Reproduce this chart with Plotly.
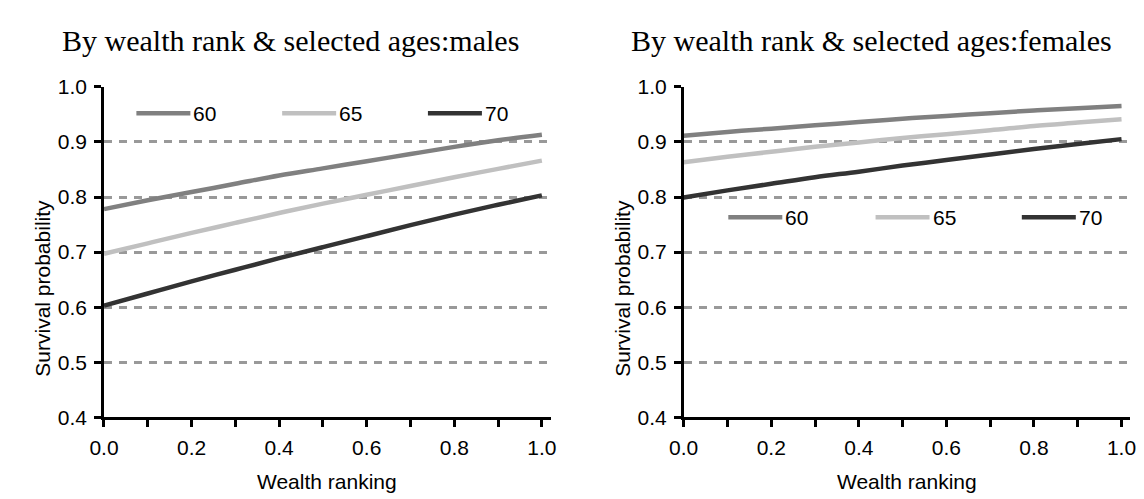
import plotly.graph_objects as go

# ---- data ----
wealth_rank = [0.0, 0.1, 0.2, 0.3, 0.4, 0.5, 0.6, 0.7, 0.8, 0.9, 1.0]
ages = ["60", "65", "70"]

males_60 = [0.778, 0.794, 0.809, 0.824, 0.839, 0.852, 0.865, 0.878, 0.891, 0.903, 0.913]
males_65 = [0.697, 0.716, 0.735, 0.753, 0.771, 0.788, 0.804, 0.820, 0.836, 0.851, 0.866]
males_70 = [0.603, 0.625, 0.647, 0.668, 0.689, 0.709, 0.729, 0.749, 0.768, 0.786, 0.803]

females_60 = [0.911, 0.918, 0.924, 0.930, 0.936, 0.942, 0.947, 0.952, 0.957, 0.961, 0.965]
females_65 = [0.863, 0.873, 0.882, 0.891, 0.899, 0.907, 0.914, 0.921, 0.929, 0.935, 0.941]
females_70 = [0.799, 0.812, 0.824, 0.836, 0.846, 0.857, 0.867, 0.877, 0.887, 0.896, 0.905]

x_tick_vals = [0.0, 0.2, 0.4, 0.6, 0.8, 1.0]
x_tick_text = ["0.0", "0.2", "0.4", "0.6", "0.8", "1.0"]

titles = ["By wealth rank & selected ages:males", "By wealth rank & selected ages:females"]
x_title = "Wealth ranking"
y_title = "Survival probability"

# ---- styling ----
W, H = 1144, 499
colors = {"60": "#808080", "65": "#c0c0c0", "70": "#333333"}
sans = "Liberation Sans, Arial, sans-serif"
serif = "Liberation Serif, Times New Roman, serif"
FS = 21

def px_x(p):
    return p / W

def px_y(p):
    return 1 - p / H

panels = [
    dict(xaxis="x", yaxis="y", series=[males_60, males_65, males_70],
         dom=(82.5, 537.5), title_cx=273, ytitle_cx=19, xtitle_cx=310,
         leg_y=97.7, leg_x=[115.5, 264, 412.5]),
    dict(xaxis="x2", yaxis="y2", series=[females_60, females_65, females_70],
         dom=(673, 1128), title_cx=864, ytitle_cx=610, xtitle_cx=901,
         leg_y=206.7, leg_x=[718.5, 868.5, 1017.5]),
]

fig = go.Figure()
annotations = []
shapes = []
for i, p in enumerate(panels):
    for age, vals in zip(ages, p["series"]):
        fig.add_trace(go.Scatter(
            x=wealth_rank, y=vals, mode="lines", name=age,
            line=dict(color=colors[age], width=4.5, shape="spline"),
            xaxis=p["xaxis"], yaxis=p["yaxis"], showlegend=False,
        ))
    # title
    annotations.append(dict(text=titles[i], x=px_x(p["title_cx"]), y=px_y(21),
                            xref="paper", yref="paper", xanchor="center", yanchor="middle",
                            showarrow=False, font=dict(family=serif, size=30, color="#000000")))
    # axis titles
    annotations.append(dict(text=x_title, x=px_x(p["xtitle_cx"]), y=px_y(484),
                            xref="paper", yref="paper", xanchor="center", yanchor="middle",
                            showarrow=False, font=dict(family=sans, size=FS, color="#000000")))
    annotations.append(dict(text=y_title, x=px_x(p["ytitle_cx"]), y=px_y(281),
                            xref="paper", yref="paper", xanchor="center", yanchor="middle",
                            textangle=-90, showarrow=False,
                            font=dict(family=sans, size=FS, color="#000000")))
    # legend (inside plot)
    for age, lx in zip(ages, p["leg_x"]):
        shapes.append(dict(type="line", xref="paper", yref="paper",
                           x0=px_x(lx), x1=px_x(lx + 55), y0=px_y(p["leg_y"]), y1=px_y(p["leg_y"]),
                           line=dict(color=colors[age], width=4.5)))
        annotations.append(dict(text=age, x=px_x(lx + 56), y=px_y(p["leg_y"]),
                                xref="paper", yref="paper", xanchor="left", yanchor="middle",
                                showarrow=False, font=dict(family=sans, size=FS, color="#000000")))

y_dom = [px_y(416.7), px_y(70)]
common_x = dict(range=[0, 1.02], tickmode="array", tickvals=x_tick_vals, ticktext=x_tick_text,
                ticks="outside", ticklen=7, tickwidth=2.5, tickcolor="#000000",
                showline=True, linecolor="#000000", linewidth=2.5, showgrid=False, zeroline=False,
                minor=dict(dtick=0.1, tick0=0, ticks="outside", ticklen=7, tickwidth=2.5,
                           tickcolor="#000000", showgrid=False),
                tickfont=dict(family=sans, size=FS, color="#000000"), ticklabelstandoff=3,
                fixedrange=True)
common_y = dict(range=[0.4, 1.0], dtick=0.1, tick0=0.4, tickformat=".1f", domain=y_dom,
                ticks="outside", ticklen=7, tickwidth=2.5, tickcolor="#000000",
                showline=True, linecolor="#000000", linewidth=2.5,
                showgrid=True, gridcolor="#999999", gridwidth=2.5, griddash="8px,7px",
                zeroline=False, tickfont=dict(family=sans, size=FS, color="#000000"),
                ticklabelstandoff=3, fixedrange=True)

fig.update_layout(
    width=W, height=H, autosize=False,
    margin=dict(l=0, r=0, t=0, b=0),
    paper_bgcolor="#ffffff", plot_bgcolor="#ffffff",
    xaxis=dict(domain=[px_x(panels[0]["dom"][0]), px_x(panels[0]["dom"][1])], anchor="y", **common_x),
    yaxis=dict(anchor="x", **common_y),
    xaxis2=dict(domain=[px_x(panels[1]["dom"][0]), px_x(panels[1]["dom"][1])], anchor="y2", **common_x),
    yaxis2=dict(anchor="x2", **common_y),
    annotations=annotations,
    shapes=shapes,
    showlegend=False,
)

fig.write_html("out.html")
